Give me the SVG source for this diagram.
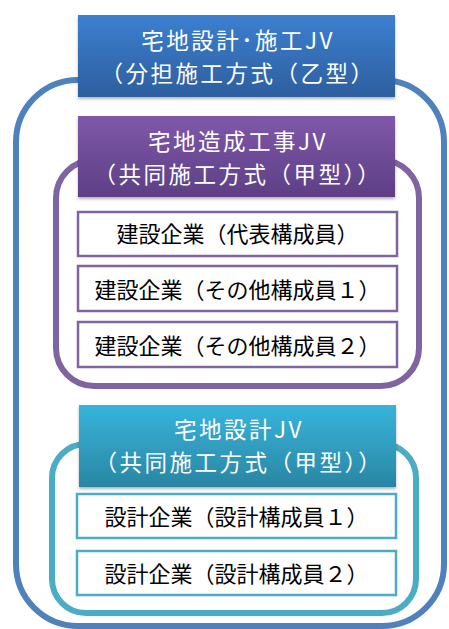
<svg xmlns="http://www.w3.org/2000/svg" width="449" height="629" viewBox="0 0 449 629">
<defs>
<linearGradient id="gBlue" x1="0" y1="0" x2="0" y2="1"><stop offset="0" stop-color="#3c7fd0"/><stop offset="1" stop-color="#2d5f9f"/></linearGradient>
<linearGradient id="gPurple" x1="0" y1="0" x2="0" y2="1"><stop offset="0" stop-color="#7e58a9"/><stop offset="1" stop-color="#5e3f85"/></linearGradient>
<linearGradient id="gTeal" x1="0" y1="0" x2="0" y2="1"><stop offset="0" stop-color="#37b4dc"/><stop offset="1" stop-color="#2a86a3"/></linearGradient>
<filter id="sh" x="-5%" y="-10%" width="110%" height="125%"><feDropShadow dx="0" dy="2" stdDeviation="1.5" flood-color="#000" flood-opacity="0.3"/></filter>
</defs>
<style>
.hd{font-family:"Noto Sans CJK JP","Noto Sans",sans-serif;font-size:22.5px;letter-spacing:2.5px;fill:#fff;text-anchor:middle}
.mt{font-family:"Noto Sans CJK JP","Noto Sans",sans-serif;font-size:22px;fill:#000;text-anchor:middle}
.pb{fill:#fff;stroke:#8064a2;stroke-width:2.5}
.tb{fill:#fff;stroke:#4bacc6;stroke-width:2.5}
</style>
<rect width="449" height="629" fill="#fff"/>
<g id="connectors">
<rect x="16" y="80" width="428" height="546" rx="62" fill="none" stroke="#4f81bd" stroke-width="6"/>
<rect x="56" y="160" width="363" height="226" rx="38" fill="none" stroke="#8064a2" stroke-width="6"/>
<rect x="52" y="444" width="364" height="169" rx="34" fill="none" stroke="#4bacc6" stroke-width="6"/>
</g>
<g id="jv-main">
<rect x="78" y="15" width="317" height="82" fill="url(#gBlue)" filter="url(#sh)"/>
<text class="hd" x="238" y="48.5">宅地設計･施工JV</text>
<text class="hd" x="238" y="81.5">（分担施工方式（乙型）</text>
</g>
<g id="jv-construction">
<rect x="78" y="116" width="317" height="81" fill="url(#gPurple)" filter="url(#sh)"/>
<text class="hd" x="238" y="149.5">宅地造成工事JV</text>
<text class="hd" x="238" y="182.5">（共同施工方式（甲型））</text>
</g>
<g id="c-rep">
<rect class="pb" x="78" y="212" width="319" height="44"/>
<text class="mt" x="237.5" y="242">建設企業（代表構成員）</text>
</g>
<g id="c-other1">
<rect class="pb" x="78" y="266" width="319" height="45"/>
<text class="mt" x="237.5" y="298">建設企業（その他構成員１）</text>
</g>
<g id="c-other2">
<rect class="pb" x="78" y="322" width="319" height="45"/>
<text class="mt" x="237.5" y="354">建設企業（その他構成員２）</text>
</g>
<g id="jv-design">
<rect x="79" y="405" width="317" height="82" fill="url(#gTeal)" filter="url(#sh)"/>
<text class="hd" x="239" y="437.5">宅地設計JV</text>
<text class="hd" x="239" y="471">（共同施工方式（甲型））</text>
</g>
<g id="d-1">
<rect class="tb" x="77" y="494" width="319" height="44"/>
<text class="mt" x="236.5" y="525">設計企業（設計構成員１）</text>
</g>
<g id="d-2">
<rect class="tb" x="77" y="551" width="319" height="44"/>
<text class="mt" x="236.5" y="582">設計企業（設計構成員２）</text>
</g>
</svg>
